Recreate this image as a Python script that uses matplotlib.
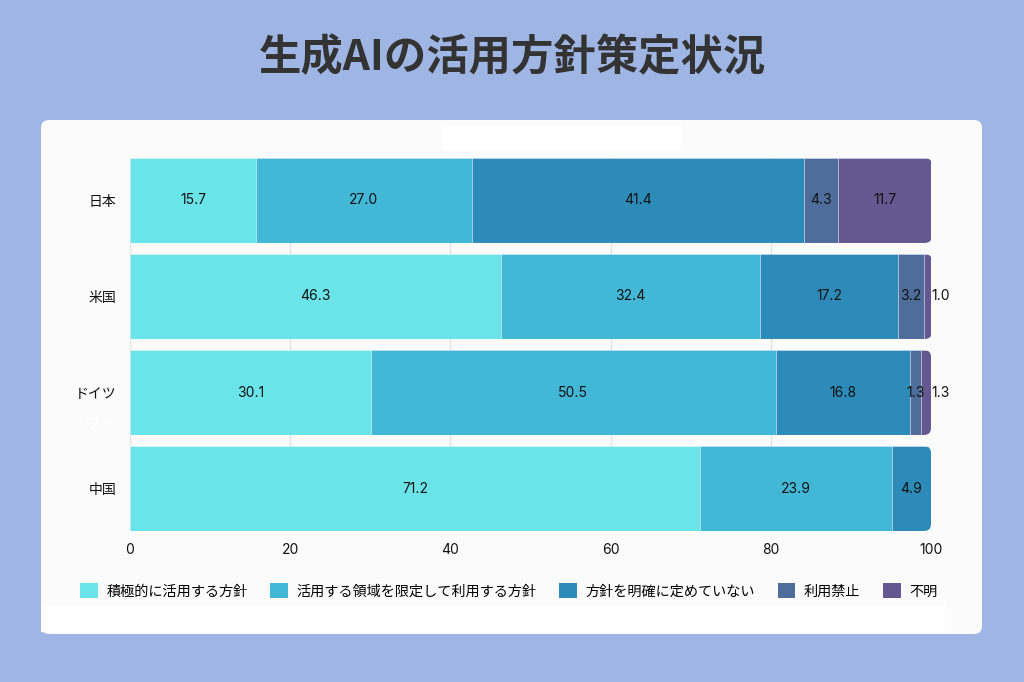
import matplotlib
matplotlib.use("Agg")
import matplotlib.pyplot as plt
from matplotlib.patches import FancyBboxPatch, Rectangle, Patch
import numpy as np

plt.rcParams['font.family'] = ['Noto Sans CJK JP', 'DejaVu Sans']

title = "生成AIの活用方針策定状況"
countries = ["日本", "米国", "ドイツ", "中国"]
series_names = ["積極的に活用する方針", "活用する領域を限定して利用する方針",
                "方針を明確に定めていない", "利用禁止", "不明"]
active_use = [15.7, 46.3, 30.1, 71.2]
limited_use = [27.0, 32.4, 50.5, 23.9]
undecided = [41.4, 17.2, 16.8, 4.9]
prohibited = [4.3, 3.2, 1.3, 0.0]
unknown = [11.7, 1.0, 1.3, 0.0]
x_ticks = [0, 20, 40, 60, 80, 100]

series = [active_use, limited_use, undecided, prohibited, unknown]
colors = ["#6ae4e9", "#42b7d6", "#2d8bb9", "#4f6d9b", "#63588f"]
num_font = ['Inter', 'DejaVu Sans']

W, H = 1024, 682
fig = plt.figure(figsize=(W / 100, H / 100), dpi=100)
fig.patch.set_facecolor("#9fb6e4")

# white panel
panel = FancyBboxPatch((41 / 100, (H - 634) / 100), (982 - 41) / 100, (634 - 120) / 100,
                       boxstyle="round,pad=0,rounding_size=0.08",
                       transform=fig.dpi_scale_trans, facecolor="#fbfbfb",
                       edgecolor="none", zorder=-2)
fig.patches.append(panel)
fig.patches.append(Rectangle((442 / 100, (H - 150) / 100), 240 / 100, 25 / 100,
                             transform=fig.dpi_scale_trans, facecolor="white",
                             edgecolor="none", zorder=-1))
fig.patches.append(Rectangle((41 / 100, (H - 632) / 100), 904 / 100, 27 / 100,
                             transform=fig.dpi_scale_trans, facecolor="white",
                             edgecolor="none", zorder=-1))

fig.text(0.5, 1 - 58 / H, title, ha="center", va="center", fontsize=30.5,
         fontweight="bold", color="#333333")

ax_left, ax_right = 130 / W, 931 / W
ax_top, ax_bottom = 1 - 158 / H, 1 - 531 / H
ax = fig.add_axes([ax_left, ax_bottom, ax_right - ax_left, ax_top - ax_bottom])
ax.set_zorder(2)
ax.set_facecolor("none")
bh = 0.885
ax.set_xlim(0, 100)
ax.set_ylim(len(countries) - 1 + bh / 2, -bh / 2)
for s in ax.spines.values():
    s.set_visible(False)
ax.set_xticks(x_ticks)
ax.set_xticklabels([str(t) for t in x_ticks], family=num_font)
ax.set_yticks(range(len(countries)))
ax.set_yticklabels(countries)
ax.tick_params(length=0, labelsize=10, colors="#111111")
ax.tick_params(axis="x", pad=9)
ax.tick_params(axis="y", pad=10)
ax.set_axisbelow(True)
ax.grid(axis="x", color="#e3e3e3", linewidth=1)
ax.grid(axis="y", visible=False)

ypos = np.arange(len(countries))
# rounded right ends via clip patch
px_per_x = (931 - 130) / 100
px_per_y = 96.0
r_px = 7
for i, y in enumerate(ypos):
    total = sum(s[i] for s in series)
    r = r_px / px_per_x
    clip = FancyBboxPatch((-10, y - bh / 2), total + 10, bh,
                          boxstyle=f"round,pad=0,rounding_size={r}",
                          mutation_aspect=(r_px / px_per_y) / r,
                          transform=ax.transData, facecolor="none", edgecolor="none")
    ax.add_patch(clip)
    left = 0
    for k, s in enumerate(series):
        v = s[i]
        if v <= 0:
            continue
        bars = ax.barh(y, v, left=left, height=bh, color=colors[k],
                       edgecolor=(1, 1, 1, 0.35), linewidth=0.6, zorder=2)
        for b in bars:
            b.set_clip_path(clip)
        if k == len(series) - 1 and v < 2:
            ax.text(100.1, y, f"{v:.1f}", ha="left", va="center", fontsize=10,
                    color="#111111", zorder=3, clip_on=False, family=num_font)
        else:
            ax.text(left + v / 2, y, f"{v:.1f}", ha="center", va="center",
                    fontsize=10, color="#111111", zorder=3, family=num_font)
        left += v

fig.text(100 / W, 1 - 424 / H, "ワー", fontsize=11, color="white",
         ha="center", va="center", zorder=3)

handles = [Patch(facecolor=c, edgecolor="none") for c in colors]
fig.legend(handles, series_names, loc="center", bbox_to_anchor=(0.497, 1 - 591 / H),
           ncol=5, frameon=False, fontsize=10.2, handlelength=1.25, handleheight=1.25,
           handletextpad=0.6, columnspacing=1.6)

fig.savefig("out.png", dpi=100, facecolor=fig.get_facecolor())
